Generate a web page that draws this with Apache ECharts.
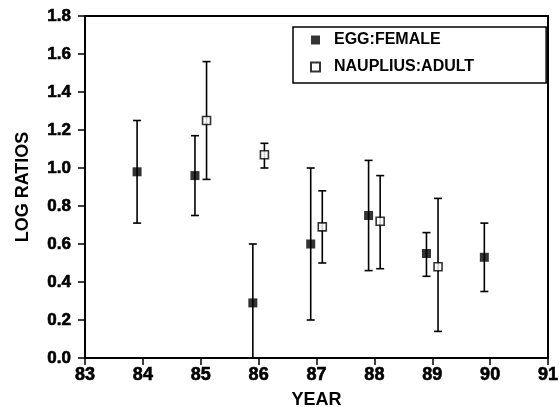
<!DOCTYPE html>
<html>
<head>
<meta charset="utf-8">
<script src="https://cdn.jsdelivr.net/npm/echarts@6/dist/echarts.min.js"></script>
<style>
  html, body { margin: 0; padding: 0; background: #fff; }
  #main { width: 559px; height: 407px; }
</style>
</head>
<body>
<div id="main"></div>
<script>
// years and log ratios
var eggYears = [84, 85, 86, 87, 88, 89, 90];
var eggVal = [0.98, 0.96, 0.29, 0.60, 0.75, 0.55, 0.53];
var eggHi = [1.25, 1.17, 0.60, 1.00, 1.04, 0.66, 0.71];
var eggLo = [0.71, 0.75, 0.00, 0.20, 0.46, 0.43, 0.35];

var naupYears = [85, 86, 87, 88, 89];
var naupVal = [1.25, 1.07, 0.69, 0.72, 0.48];
var naupHi = [1.56, 1.13, 0.88, 0.96, 0.84];
var naupLo = [0.94, 1.00, 0.50, 0.47, 0.14];

var SHIFT = 0.1; // points are drawn a little either side of the year

var eggPts = [], eggBars = [];
for (var i = 0; i < eggYears.length; i++) {
  eggPts.push([eggYears[i] - SHIFT, eggVal[i]]);
  eggBars.push([eggYears[i] - SHIFT, eggLo[i], eggHi[i]]);
}
var naupPts = [], naupBars = [];
for (var j = 0; j < naupYears.length; j++) {
  naupPts.push([naupYears[j] + SHIFT, naupVal[j]]);
  naupBars.push([naupYears[j] + SHIFT, naupLo[j], naupHi[j]]);
}

function errorBar(params, api) {
  var x = api.value(0);
  var lo = api.coord([x, api.value(1)]);
  var hi = api.coord([x, api.value(2)]);
  var cap = 4;
  var st = { stroke: '#000', lineWidth: 1.6 };
  return {
    type: 'group',
    children: [
      { type: 'line', shape: { x1: hi[0], y1: hi[1], x2: lo[0], y2: lo[1] }, style: st },
      { type: 'line', shape: { x1: hi[0] - cap, y1: hi[1], x2: hi[0] + cap, y2: hi[1] }, style: st },
      { type: 'line', shape: { x1: lo[0] - cap, y1: lo[1], x2: lo[0] + cap, y2: lo[1] }, style: st }
    ]
  };
}

var font = 'Liberation Sans';
var myChart = echarts.init(document.getElementById('main'));
var option = {
  animation: false,
  backgroundColor: '#fff',
  grid: { left: 85, right: 11, top: 16, bottom: 49, show: true, borderColor: '#000', borderWidth: 2,
    outerBoundsMode: 'none', containLabel: false },
  legend: {
    left: 293, top: 27,
    orient: 'vertical',
    padding: [5, 72, 8, 17],
    itemGap: 11,
    itemWidth: 9, itemHeight: 9,
    borderColor: '#000', borderWidth: 1.5,
    textStyle: { fontFamily: font, fontWeight: 'bold', fontSize: 16, color: '#000', padding: [0, 0, 0, 9] },
    data: ['EGG:FEMALE', 'NAUPLIUS:ADULT']
  },
  xAxis: {
    type: 'value', min: 83, max: 91, interval: 1,
    name: 'YEAR', nameLocation: 'middle', nameGap: 33,
    nameTextStyle: { fontFamily: font, fontWeight: 'bold', fontSize: 18, color: '#000' },
    axisLine: { lineStyle: { color: '#000', width: 2 } },
    axisTick: { inside: false, length: 7, lineStyle: { color: '#000', width: 1.5 } },
    axisLabel: { fontFamily: font, fontWeight: 'bold', fontSize: 18, color: '#000', margin: 8,
      textBorderColor: '#000', textBorderWidth: 0.6 },
    splitLine: { show: false }
  },
  yAxis: {
    type: 'value', min: 0, max: 1.8, interval: 0.2,
    name: 'LOG RATIOS', nameLocation: 'middle', nameGap: 53, nameRotate: 90,
    nameTextStyle: { fontFamily: font, fontWeight: 'bold', fontSize: 18, color: '#000' },
    axisLine: { lineStyle: { color: '#000', width: 2 } },
    axisTick: { inside: false, length: 7, lineStyle: { color: '#000', width: 1.5 } },
    axisLabel: { fontFamily: font, fontWeight: 'bold', fontSize: 17, color: '#000', margin: 14,
      textBorderColor: '#000', textBorderWidth: 0.6,
      formatter: function (v) { return v.toFixed(1); } },
    splitLine: { show: false }
  },
  series: [
    { name: 'EGG:FEMALE', type: 'scatter', data: eggPts, symbol: 'rect', symbolSize: 9, z: 3,
      itemStyle: { color: '#000', borderColor: '#000', borderWidth: 0 } },
    { name: 'NAUPLIUS:ADULT', type: 'scatter', data: naupPts, symbol: 'rect', symbolSize: 8, z: 3,
      itemStyle: { color: '#fff', borderColor: '#000', borderWidth: 1.6 } },
    { type: 'custom', data: eggBars, renderItem: errorBar, z: 2, silent: true },
    { type: 'custom', data: naupBars, renderItem: errorBar, z: 2, silent: true }
  ]
};
myChart.setOption(option);
</script>
</body>
</html>
